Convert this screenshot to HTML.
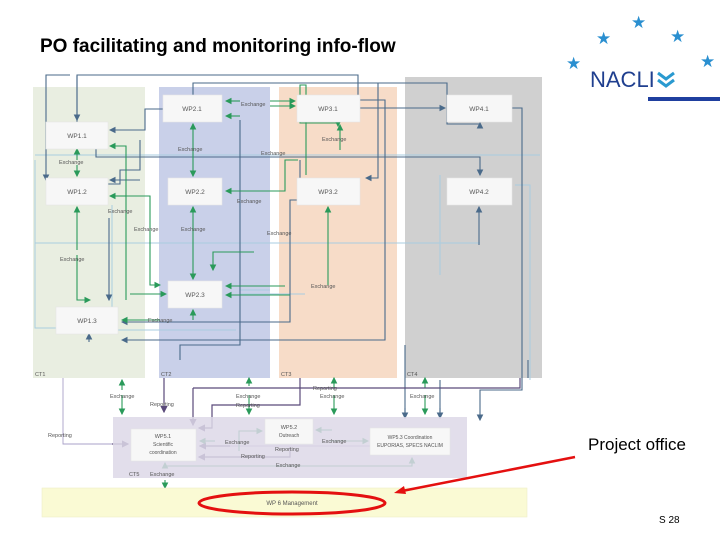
<!DOCTYPE html>
<html><head><meta charset="utf-8"><style>
html,body{margin:0;padding:0;background:#fff;}
svg{display:block;font-family:"Liberation Sans",sans-serif;}
.bx{fill:#f7f7f7;stroke:#e4e4e4;stroke-width:.6}
.t{font-size:6.5px;fill:#555;text-anchor:middle}
.s{font-size:5.5px;fill:#555}
.b{stroke:#4a6a8a;stroke-width:1.1;fill:none}
.g{stroke:#2a9a5a;stroke-width:1.1;fill:none}
.l{stroke:#a9cde0;stroke-width:1;fill:none}
.p{stroke:#5a4a7a;stroke-width:1.2;fill:none}
.pl{stroke:#a9a0c8;stroke-width:.9;fill:none}
</style></head><body>
<svg width="720" height="540" viewBox="0 0 720 540" xmlns="http://www.w3.org/2000/svg">
<defs>
<marker id="ab" markerWidth="6" markerHeight="6" refX="5" refY="3" orient="auto"><path d="M0,0 L6,3 L0,6 z" fill="#4a6a8a"/></marker>
<marker id="ag" markerWidth="6" markerHeight="6" refX="5" refY="3" orient="auto"><path d="M0,0 L6,3 L0,6 z" fill="#2a9a5a"/></marker>
<marker id="ap" markerWidth="6" markerHeight="6" refX="5" refY="3" orient="auto"><path d="M0,0 L6,3 L0,6 z" fill="#5a4a7a"/></marker>
</defs>
<text x="40" y="52" style="font-size:19px;font-weight:bold;fill:#000">PO facilitating and monitoring info-flow</text>
<!-- logo -->
<g fill="#2a8fd0" font-size="17">
<text x="631" y="28">★</text><text x="596" y="44">★</text><text x="670" y="42">★</text><text x="566" y="69">★</text><text x="700" y="67">★</text>
</g>
<text x="590" y="87" style="font-size:22px;fill:#1f3f8f">NACLI</text>
<path d="M658,73 l8,6 l8,-6 M658,80 l8,6 l8,-6" stroke="#2a9ad0" stroke-width="3" fill="none"/>
<rect x="648" y="97" width="72" height="4" fill="#1f3f9f"/>
<!-- columns -->
<rect x="33" y="87" width="112" height="291" fill="#e9eee1"/>
<rect x="159" y="87" width="111" height="291" fill="#c9d0e9"/>
<rect x="279" y="87" width="118" height="291" fill="#f7dcc8"/>
<rect x="405" y="77" width="137" height="301" fill="#d0d0d0"/>
<text x="35" y="376" class="s">CT1</text><text x="161" y="376" class="s">CT2</text><text x="281" y="376" class="s">CT3</text><text x="407" y="376" class="s">CT4</text>
<!-- light lines -->
<path class="l" d="M35,155 H540 M35,243 H480 M35,160 V328 H56 M112,205 V330 H236 M440,175 V275 M515,185 H530 V380 M240,294 H305 M240,290 H270"/>
<!-- blue lines -->
<path class="b" d="M77,122 V75 H358 V96 M70,75 H46 V180" marker-end="url(#ab)"/>
<path class="b" d="M77,76 V120" marker-end="url(#ab)"/>
<path class="b" d="M193,95 V83 H378 V178 H366" marker-end="url(#ab)"/>
<path class="b" d="M193,83 H447 V124 H480 V123" marker-end="url(#ab)"/>
<path class="b" d="M163,109 H145 V130 H110" marker-end="url(#ab)"/>
<path class="b" d="M360,100 H385 V340 H122" marker-end="url(#ab)"/>
<path class="b" d="M360,108 H445" marker-end="url(#ab)"/>
<path class="b" d="M96,149 V157 H480 V175" marker-end="url(#ab)"/>
<path class="b" d="M512,108 H522 V390 H480 V420" marker-end="url(#ab)"/>
<path class="b" d="M300,160 V200 H290 V322 H122" marker-end="url(#ab)"/>
<path class="b" d="M108,184 H120 V170 H140 V140" />
<path class="b" d="M140,180 H110" marker-end="url(#ab)"/>
<path class="b" d="M240,120 V345 H180 V360" />
<path class="b" d="M109,218 V300" marker-end="url(#ab)"/>
<path class="b" d="M479,245 V207" marker-end="url(#ab)"/>
<path class="b" d="M89,342 V334" marker-end="url(#ab)"/>
<path class="b" d="M405,345 V418 M440,380 V418 M528,360 V378" />
<path class="b" d="M405,408 V418" marker-end="url(#ab)"/><path class="b" d="M440,408 V418" marker-end="url(#ab)"/>
<!-- green lines -->
<path class="g" d="M77,160 V149" marker-end="url(#ag)"/><path class="g" d="M77,165 V176" marker-end="url(#ag)"/>
<path class="g" d="M77,250 V207" marker-end="url(#ag)"/><path class="g" d="M77,255 V300 H90" marker-end="url(#ag)"/>
<path class="g" d="M126,300 V146 H110" marker-end="url(#ag)"/>
<path class="g" d="M126,196 H110" marker-end="url(#ag)"/>
<path class="g" d="M126,196 H150 V285 H160" marker-end="url(#ag)"/>
<path class="g" d="M193,150 V124" marker-end="url(#ag)"/><path class="g" d="M193,150 V176" marker-end="url(#ag)"/>
<path class="g" d="M193,240 V207" marker-end="url(#ag)"/><path class="g" d="M193,240 V279" marker-end="url(#ag)"/>
<path class="g" d="M193,320 V310" marker-end="url(#ag)"/>
<path class="g" d="M160,320 H122" marker-end="url(#ag)"/>
<path class="g" d="M130,294 H166" marker-end="url(#ag)"/>
<path class="g" d="M240,101 H226" marker-end="url(#ag)"/><path class="g" d="M270,101 H295" marker-end="url(#ag)"/>
<path class="g" d="M240,116 H226" marker-end="url(#ag)"/><path class="g" d="M270,106 H295" marker-end="url(#ag)"/>
<path class="g" d="M306,175 V85 H300 V123 H326 H338 V126" marker-end="url(#ag)"/>
<path class="g" d="M340,150 V125" marker-end="url(#ag)"/>
<path class="g" d="M298,160 H285 V191 H226" marker-end="url(#ag)"/>
<path class="g" d="M285,286 H226" marker-end="url(#ag)"/>
<path class="g" d="M290,295 H226" marker-end="url(#ag)"/>
<path class="g" d="M328,285 V207" marker-end="url(#ag)"/>
<path class="g" d="M254,252 H213 V270" marker-end="url(#ag)"/>
<path class="g" d="M122,390 V380" marker-end="url(#ag)"/><path class="g" d="M122,395 V414" marker-end="url(#ag)"/>
<path class="g" d="M249,386 V378" marker-end="url(#ag)"/><path class="g" d="M249,395 V414" marker-end="url(#ag)"/>
<path class="g" d="M334,388 V378" marker-end="url(#ag)"/><path class="g" d="M334,395 V414" marker-end="url(#ag)"/>
<path class="g" d="M425,388 V378" marker-end="url(#ag)"/><path class="g" d="M425,395 V414" marker-end="url(#ag)"/>
<!-- bottom purple -->
<path class="pl" d="M63,378 V444 H122" />
<path class="p" d="M112,444 H128" marker-end="url(#ap)"/>
<path class="p" d="M164,378 V412" marker-end="url(#ap)"/>
<path class="p" d="M300,378 V405 H212 V428 H199" marker-end="url(#ap)"/>
<path class="p" d="M193,388 V425" marker-end="url(#ap)"/>
<path class="p" d="M193,388 H520 V378" />
<path class="pl" d="M370,446 H199" /><path class="p" d="M230,446 H200" marker-end="url(#ap)"/>
<path class="p" d="M290,447 V457 H199" marker-end="url(#ap)"/>
<path class="g" d="M239,451 V431 H262" marker-end="url(#ag)"/>
<path class="g" d="M330,441 H368" marker-end="url(#ag)"/>
<path class="g" d="M332,430 H316" marker-end="url(#ag)"/>
<path class="g" d="M215,441 H200" marker-end="url(#ag)"/>
<path class="g" d="M165,466 H412 V458" marker-end="url(#ag)"/>
<path class="g" d="M165,466 V463" marker-end="url(#ag)"/>
<path class="g" d="M165,480 V488" marker-end="url(#ag)"/>
<!-- CT5 -->
<rect x="113" y="417" width="354" height="61" fill="#ddd8e8" opacity="0.85"/>
<text x="129" y="476" class="s">CT5</text>
<!-- boxes -->
<g>
<rect class="bx" x="163" y="95" width="59" height="27"/><text class="t" x="192" y="111">WP2.1</text>
<rect class="bx" x="297" y="95" width="63" height="27"/><text class="t" x="328" y="111">WP3.1</text>
<rect class="bx" x="447" y="95" width="65" height="27"/><text class="t" x="479" y="111">WP4.1</text>
<rect class="bx" x="46" y="122" width="62" height="27"/><text class="t" x="77" y="138">WP1.1</text>
<rect class="bx" x="46" y="178" width="62" height="27"/><text class="t" x="77" y="194">WP1.2</text>
<rect class="bx" x="168" y="178" width="54" height="27"/><text class="t" x="195" y="194">WP2.2</text>
<rect class="bx" x="297" y="178" width="63" height="27"/><text class="t" x="328" y="194">WP3.2</text>
<rect class="bx" x="447" y="178" width="65" height="27"/><text class="t" x="479" y="194">WP4.2</text>
<rect class="bx" x="168" y="281" width="54" height="27"/><text class="t" x="195" y="297">WP2.3</text>
<rect class="bx" x="56" y="307" width="62" height="27"/><text class="t" x="87" y="323">WP1.3</text>
<rect class="bx" x="131" y="429" width="65" height="32"/><text class="t" x="163" y="438" style="font-size:5.5px">WP5.1</text><text class="t" x="163" y="446" style="font-size:5px">Scientific</text><text class="t" x="163" y="454" style="font-size:5px">coordination</text>
<rect class="bx" x="265" y="419" width="48" height="25"/><text class="t" x="289" y="429" style="font-size:5.5px">WP5.2</text><text class="t" x="289" y="437" style="font-size:5px">Outreach</text>
<rect class="bx" x="370" y="428" width="80" height="27"/><text class="t" x="410" y="439" style="font-size:5px">WP5.3 Coordination</text><text class="t" x="410" y="447" style="font-size:5px">EUPORIAS, SPECS NACLIM</text>
</g>
<!-- labels -->
<g class="s">
<text x="241" y="106">Exchange</text><text x="178" y="151">Exchange</text><text x="59" y="164">Exchange</text>
<text x="261" y="155">Exchange</text><text x="322" y="141">Exchange</text><text x="237" y="203">Exchange</text>
<text x="108" y="213">Exchange</text><text x="134" y="231">Exchange</text><text x="181" y="231">Exchange</text>
<text x="267" y="235">Exchange</text><text x="60" y="261">Exchange</text><text x="311" y="288">Exchange</text>
<text x="148" y="322">Exchange</text>
<text x="110" y="398">Exchange</text><text x="150" y="406">Reporting</text><text x="236" y="398">Exchange</text>
<text x="236" y="407">Reporting</text><text x="313" y="390">Reporting</text><text x="320" y="398">Exchange</text>
<text x="410" y="398">Exchange</text><text x="48" y="437">Reporting</text>
<text x="225" y="444">Exchange</text><text x="322" y="443">Exchange</text><text x="275" y="451">Reporting</text>
<text x="241" y="458">Reporting</text><text x="276" y="467">Exchange</text><text x="150" y="476">Exchange</text>
</g>
<!-- WP6 -->
<rect x="42" y="488" width="485" height="29" fill="#fafad4" stroke="#eeeec8" stroke-width=".6"/>
<text class="t" x="292" y="505" style="font-size:6px">WP 6 Management</text>
<ellipse cx="292" cy="503" rx="93" ry="11" fill="none" stroke="#e41010" stroke-width="3"/>
<path d="M575,457 L402,491" stroke="#e41010" stroke-width="2.5"/>
<path d="M394,493 l10,-7 l2,8 z" fill="#e41010"/>
<text x="588" y="450" style="font-size:17px;fill:#000">Project office</text>
<text x="659" y="523" style="font-size:10px;fill:#000">S 28</text>
</svg>
</body></html>
